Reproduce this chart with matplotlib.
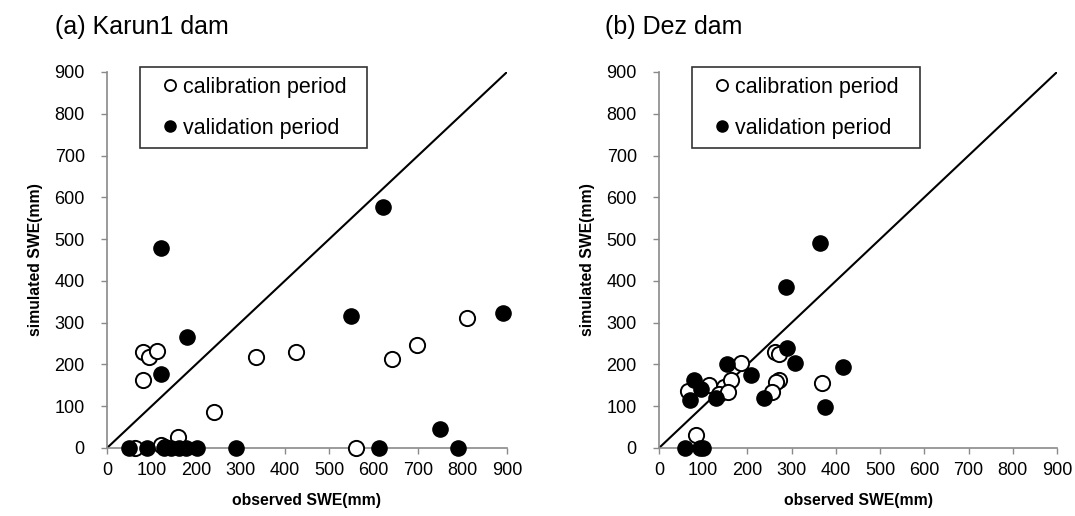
import matplotlib
matplotlib.use("Agg")
import matplotlib.pyplot as plt
from matplotlib.lines import Line2D

plt.rcParams['font.family'] = ['Liberation Sans', 'DejaVu Sans']

# ---- data: (a) Karun1 dam ----
a_cal_obs = [80, 95, 113, 80, 335, 425, 241, 160, 121, 130, 560, 64, 641, 697, 810]
a_cal_sim = [229, 219, 233, 162, 217, 229, 86, 27, 8, 3, 0, 0, 212, 246, 310]
a_val_obs = [122, 121, 181, 620, 550, 890, 750, 790, 613, 290, 50, 91, 128, 143, 162, 177, 203]
a_val_sim = [478, 178, 266, 576, 316, 324, 45, 0, 0, 0, 0, 0, 0, 0, 0, 0, 0]

# ---- data: (b) Dez dam ----
b_cal_obs = [83, 66, 114, 148, 162, 136, 155, 185, 263, 271, 265, 256, 368, 272]
b_cal_sim = [30, 136, 150, 146, 162, 130, 134, 203, 229, 163, 159, 134, 156, 226]
b_val_obs = [365, 288, 289, 308, 417, 375, 237, 208, 153, 129, 80, 69, 96, 58, 92, 100]
b_val_sim = [491, 385, 240, 203, 194, 98, 119, 175, 201, 119, 163, 114, 141, 0, 0, 0]

ticks = [0, 100, 200, 300, 400, 500, 600, 700, 800, 900]
titles = ["(a) Karun1 dam", "(b) Dez dam"]
xlabel = "observed SWE(mm)"
ylabel = "simulated SWE(mm)"
leg_labels = ["calibration period", "validation period"]

W, H = 1075, 516
fig = plt.figure(figsize=(W / 100, H / 100), dpi=100)

panels = [
    (a_cal_obs, a_cal_sim, a_val_obs, a_val_sim, 107, 507, 140, 367, 55),
    (b_cal_obs, b_cal_sim, b_val_obs, b_val_sim, 659, 1057, 692, 920, 605),
]
y0, y1 = 448, 72
gray = "#8a8a8a"

for i, (co, cs, vo, vs, x0, x1, lx0, lx1, tx) in enumerate(panels):
    ax = fig.add_axes([x0 / W, 1 - y0 / H, (x1 - x0) / W, (y0 - y1) / H])
    ax.set_xlim(0, 900)
    ax.set_ylim(0, 900)
    ax.plot([0, 900], [0, 900], color="black", lw=1.5, zorder=1)
    ax.scatter(co, cs, s=120, facecolors="white", edgecolors="black",
               linewidths=1.4, zorder=3, clip_on=False)
    ax.scatter(vo, vs, s=120, facecolors="black", edgecolors="black",
               linewidths=1.0, zorder=4, clip_on=False)
    for side in ["top", "right"]:
        ax.spines[side].set_visible(False)
    for side in ["left", "bottom"]:
        ax.spines[side].set_color(gray)
        ax.spines[side].set_linewidth(1.2)
    ax.set_xticks(ticks)
    ax.set_yticks(ticks)
    ax.tick_params(axis="both", direction="out", length=4, width=1.0,
                   color=gray, labelsize=13)
    ax.tick_params(axis="y", pad=12)
    ax.tick_params(axis="x", pad=6)
    ax.set_xlabel(xlabel, fontsize=11.3, fontweight="bold", labelpad=10)
    ax.set_ylabel(ylabel, fontsize=11.3, fontweight="bold", labelpad=8)
    handles = [
        Line2D([], [], marker="o", ls="none", markerfacecolor="white",
               markeredgecolor="black", markersize=8, markeredgewidth=1.3),
        Line2D([], [], marker="o", ls="none", markerfacecolor="black",
               markeredgecolor="black", markersize=8),
    ]
    bw = (lx1 - lx0) / (x1 - x0)
    bh = (145 - 67) / (y0 - y1)
    btop = (y0 - 67) / (y0 - y1)
    leg = ax.legend(handles, leg_labels, loc="upper left", mode="expand",
                    bbox_to_anchor=((lx0 - x0) / (x1 - x0), btop - bh, bw, bh),
                    borderaxespad=0, fontsize=15.5, frameon=True, fancybox=False,
                    edgecolor="black", handlelength=1.86, handletextpad=-0.3,
                    borderpad=0.45, labelspacing=0.93)
    leg.get_frame().set_linewidth(1.2)
    fig.text(tx / W, 1 - 34 / H, titles[i], fontsize=18, ha="left", va="baseline")

fig.savefig("out.png", dpi=100)
